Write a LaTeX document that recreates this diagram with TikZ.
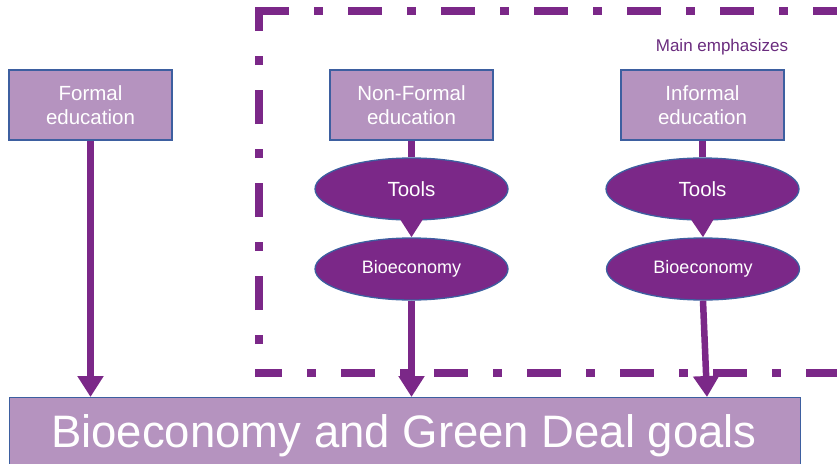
\documentclass[tikz,border=0pt]{standalone}
\usepackage{fontspec}
\setmainfont{Liberation Sans}
\usetikzlibrary{arrows.meta,shapes.geometric}
\definecolor{lightp}{HTML}{B593BF}
\definecolor{darkp}{HTML}{7B2888}
\definecolor{edgeb}{HTML}{3D5FA0}
\definecolor{textp}{HTML}{6A2C7E}
\tikzset{
  edubox/.style={draw=edgeb, line width=1.3pt, fill=lightp, text=white, minimum width=163pt, minimum height=70pt, inner sep=0pt, align=center, font=\fontsize{20.5pt}{24pt}\selectfont},
  oval/.style={ellipse, draw=edgeb, line width=1.3pt, fill=darkp, text=white, minimum width=193pt, minimum height=62pt, inner sep=0pt},
  frame/.style={draw=darkp, line width=8pt, line cap=butt, dash pattern=on 34pt off 25pt on 9pt off 25pt},
  conn/.style={draw=darkp, line width=6.5pt},
  arr/.style={conn, -{Triangle[width=25pt,length=21pt]}, shorten >=0pt},
}
\begin{document}
\begin{tikzpicture}[x=1pt,y=-1pt]
\useasboundingbox (0,0) rectangle (837,463);
\begin{scope}
\clip (0,0) rectangle (837,463);
% dashed frame
\coordinate (ftr) at (860,11);
\coordinate (fbl) at (259,373);
\coordinate (fbr) at (860,373);
\draw[frame] (255,11) -- (ftr);
\draw[frame, dash phase=26] (259,377) -- (259,7);
\draw[frame, dash phase=11] (fbl) -- (fbr);
\end{scope}
\node[text=textp, font=\fontsize{17pt}{20pt}\selectfont] (emph) at (722,47) {Main emphasizes};
% boxes
\node[edubox] (formal) at (90.5,105) {Formal\\education};
\node[edubox] (nonformal) at (411.5,105) {Non-Formal\\education};
\node[edubox] (informal) at (702.5,105) {Informal\\education};
% goal
\node[draw=edgeb, line width=1.3pt, fill=lightp, minimum width=791pt, minimum height=90pt, inner sep=0pt, anchor=north west] (goal) at (9,397) {};
\node[text=white, font=\fontsize{45.5pt}{50pt}\selectfont, anchor=base] (goaltext) at (404,447) {Bioeconomy and Green Deal goals};
% connectors first then ellipses
\coordinate (g3) at (707,397);
\node[oval, font=\fontsize{20.5pt}{24pt}\selectfont] (tools1) at (411.5,189) {Tools};
\node[oval, font=\fontsize{20.5pt}{24pt}\selectfont] (tools2) at (702.5,189) {Tools};
\begin{scope}[on background layer/.style={}]
\end{scope}
\draw[conn] (nonformal.south) -- (tools1.north);
\draw[conn] (informal.south) -- (tools2.north);
\node[oval, font=\fontsize{18pt}{22pt}\selectfont] (bio1) at (411.5,269) {Bioeconomy};
\node[oval, font=\fontsize{18pt}{22pt}\selectfont] (bio2) at (703,269) {Bioeconomy};
\draw[arr] (formal.south) -- (formal.south |- goal.north);
\draw[arr] (tools1.south) -- (bio1.north);
\draw[arr] (tools2.south) -- (bio2.north);
\draw[arr] (bio1.south) -- (bio1.south |- goal.north);
\draw[arr] (bio2.south) -- (g3);
\end{tikzpicture}
\end{document}
